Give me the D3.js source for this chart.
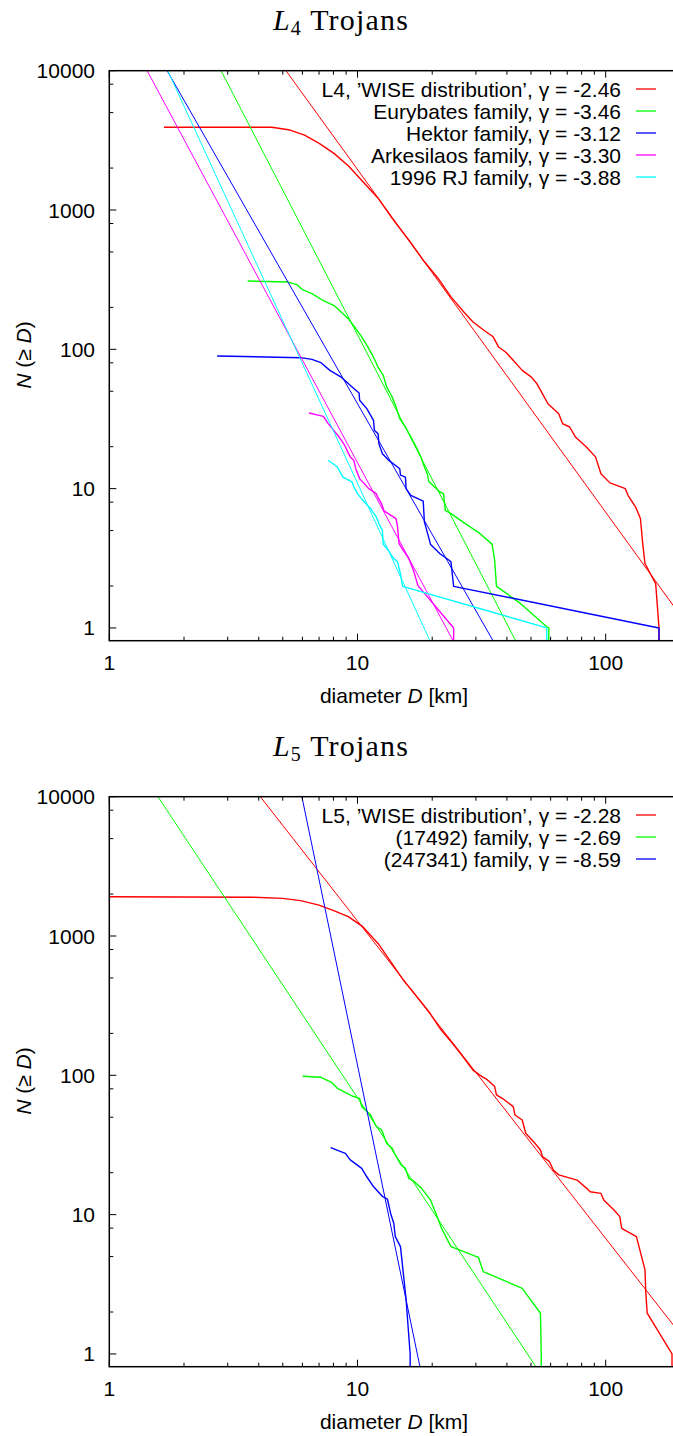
<!DOCTYPE html>
<html><head><meta charset="utf-8">
<script src="https://cdn.jsdelivr.net/npm/d3@7"></script>
<style>body{margin:0;background:#fff}svg{display:block}</style>
</head><body>
<svg id="c" width="673" height="1436"></svg>
<script>
// ---------- data (D in km, N(>=D)) ----------
const xTickValues = [1, 10, 100];
const xTickLabels = ["1", "10", "100"];
const yTickValues = [1, 10, 100, 1000, 10000];
const yTickLabels = ["1", "10", "100", "1000", "10000"];
const xMinorTicks = [2,3,4,5,6,7,8,9,20,30,40,50,60,70,80,90];
const yMinorTicks = [2,5,8,20,50,80,200,500,800,2000,5000,8000];

// L4 panel
const l4Wise = [[1.66,3930],[4.52,3930],[5.35,3750],[6.12,3450],[7.01,3010],[8.04,2550],[9.20,2070],[10.5,1603],[12.1,1216],[13.8,871],[16.4,582],[18.4,436],[21.1,324],[23.8,238],[27.2,180],[29.2,157],[32.3,137],[35.2,123],[37.0,104],[39.5,95.7],[42.4,83.4],[46.1,70.6],[50.2,63.2],[52.8,56.8],[55.6,48.1],[58.5,40.7],[61.5,37.5],[64.7,34.5],[67.0,29.3],[71.6,27.7],[75.5,23.5],[83.6,19.9],[91.0,16.9],[95.7,12.8],[104,11.0],[120,10],[123,8.95],[132,7.38],[138,6.10],[141,4.03],[144,2.90],[159,2.08],[164,1],[164,0.5]];
const l4Eurybates = [[3.61,309],[5.25,304],[5.71,291],[6.01,268],[6.55,251],[7.24,225],[8.02,207],[8.59,185],[9.18,166],[9.84,141],[10.4,123],[10.9,107],[11.5,90.6],[12.1,74.6],[12.7,65.0],[13.1,53.7],[13.8,45.5],[14.3,38.5],[14.8,31.8],[15.6,27.7],[16.4,23.5],[17.5,18.8],[18.0,16.9],[18.4,15.1],[19.1,12.8],[19.4,11.2],[21.5,9.46],[22.2,9.20],[22.6,6.98],[23.8,6.62],[27.2,5.61],[31.2,4.75],[34.9,3.98],[35.7,3.06],[36.3,1.99],[38.3,1.86],[45.3,1.50],[57.9,1.02],[59.0,1],[59.0,0.5]];
const l4Hektor = [[2.72,89.5],[5.90,87.1],[6.55,84.7],[7.13,80.2],[7.74,70.6],[8.59,63.2],[9.51,53.7],[10.15,48.6],[10.2,43.1],[10.9,37.5],[11.6,30.9],[11.7,26.2],[12.1,24.8],[12.2,21.0],[12.6,17.8],[13.3,16.1],[14.8,13.9],[14.9,12.5],[15.6,12.1],[15.7,10],[16.4,8.95],[18.4,8.15],[18.6,5.77],[19.7,3.98],[21.5,3.41],[23.4,3.06],[23.8,2.98],[24.4,1.99],[164,1],[164,0.5]];
const l4Arkesilaos = [[6.38,34.9],[7.00,33.6],[7.29,33.0],[7.62,29.3],[8.02,26.2],[8.43,23.5],[8.87,20.5],[9.35,16.9],[9.66,16.0],[9.84,13.9],[10.2,11.8],[11.1,10],[11.9,9.20],[12.1,8.61],[12.5,7.80],[12.8,6.92],[13.3,6.62],[14.3,6.10],[14.5,5.31],[14.7,4.03],[15.3,3.61],[16.1,3.15],[16.9,2.52],[17.5,2.02],[24.4,1],[24.4,0.5]];
const l4RJ1996 = [[7.62,16.0],[8.30,14.3],[8.73,12.1],[9.51,11.2],[9.66,10.3],[10.0,9.20],[10.5,8.24],[11.3,7.18],[11.9,6.27],[12.2,5.61],[12.6,5.02],[12.7,3.98],[13.3,3.61],[14.0,3.15],[14.5,2.98],[14.9,2.45],[15.2,1.99],[57.9,1],[57.9,0.5]];
// power-law fits: two end points each
const l4WiseFit = [[5.15,10000],[200,1.23]];
const l4EurybatesFit = [[2.82,10000],[43.4,0.807]];
const l4HektorFit = [[1.71,10000],[35.2,0.807]];
const l4ArkesilaosFit = [[1.42,10000],[24.3,0.807]];
const l4RJ1996Fit = [[1.72,10000],[19.6,0.807]];
const l4Labels = ["L4, \u2019WISE distribution\u2019, \u03b3 = -2.46", "Eurybates family, \u03b3 = -3.46", "Hektor family, \u03b3 = -3.12", "Arkesilaos family, \u03b3 = -3.30", "1996 RJ family, \u03b3 = -3.88"];

// L5 panel
const l5Wise = [[0.9,1914],[1.0,1914],[3.80,1897],[4.99,1862],[5.90,1795],[7.00,1667],[8.02,1521],[9.18,1377],[10.5,1167],[12.1,885],[13.8,630],[15.3,483],[16.9,388],[19.4,286],[21.5,217],[23.8,175],[26.3,140],[29.2,109],[31.2,100],[33.4,92.7],[35.7,83.0],[36.3,72.3],[38.3,68.4],[42.4,59.6],[43.1,51.9],[46.1,47.8],[47.6,38.4],[51.9,32.5],[54.6,29.1],[55.6,26.1],[59.4,24.0],[61.5,20.9],[64.7,19.3],[76.7,17.7],[83.6,15.5],[86.5,14.6],[95.7,14.2],[98.4,12.7],[108,10.8],[114,9.68],[116,7.98],[133,6.95],[144,4.01],[145,2.80],[147,1.96],[185,1],[185,0.5]];
const l5Fam17492 = [[6.01,98.4],[7.13,96.8],[7.89,88.5],[8.30,80.7],[9.51,71.1],[10.2,68.4],[10.4,59.6],[11.3,51.9],[11.9,42.9],[12.5,40.6],[13.1,32.5],[13.8,29.9],[14.2,26.8],[15.0,22.7],[15.6,21.5],[16.1,18.2],[16.9,17.3],[18.1,15.5],[19.7,12.7],[20.7,10.2],[21.8,7.98],[23.8,5.89],[30.7,4.94],[32.1,3.90],[46.1,2.96],[54.6,1.96],[55.0,1],[55.0,0.5]];
const l5Fam247341 = [[7.80,30.3],[8.93,27.5],[9.35,24.7],[10.4,21.5],[10.9,18.7],[11.6,15.9],[12.6,13.5],[13.2,12.9],[13.6,10.2],[14.0,8.67],[14.2,6.95],[14.9,5.89],[15.3,3.79],[15.7,2.44],[16.3,1],[16.3,0.5]];
const l5WiseFit = [[4.06,10000],[200,1.39]];
const l5Fam17492Fit = [[1.57,10000],[52.8,0.79]];
const l5Fam247341Fit = [[5.97,10000],[17.9,0.79]];
const l5Labels = ["L5, \u2019WISE distribution\u2019, \u03b3 = -2.28", "(17492) family, \u03b3 = -2.69", "(247341) family, \u03b3 = -8.59"];

const colors = ["#ff0000", "#00ff00", "#0000ff", "#ff00ff", "#00ffff"];

// ---------- drawing ----------
const svg = d3.select("#c");
const SANS = "'Liberation Sans', Arial, Helvetica, sans-serif";
const SERIF = "'Liberation Serif', 'DejaVu Serif', serif";
const FS = 21;

function drawPanel(idx, oy, sub, curves, fits, labels) {
  const g = svg.append("g").attr("transform", `translate(0,${oy})`);
  const x = d3.scaleLog().domain([1, 200]).range([109.3, 680.4]);
  const y = d3.scaleLog().domain([0.81, 10000]).range([640.7, 70.7]);
  const [x0, x1] = x.range(), [y1, y0] = y.range();
  const cid = "clip" + idx;
  g.append("clipPath").attr("id", cid).append("rect")
    .attr("x", x0).attr("y", y0).attr("width", x1 - x0).attr("height", y1 - y0);

  const line = d3.line().x(d => x(d[0])).y(d => y(d[1]));
  const plot = g.append("g").attr("clip-path", `url(#${cid})`);
  curves.forEach((c, i) => {
    plot.append("path").attr("d", line(fits[i])).attr("fill", "none")
      .attr("stroke", colors[i]).attr("stroke-width", 1);
    plot.append("path").attr("d", line(c)).attr("fill", "none")
      .attr("stroke", colors[i]).attr("stroke-width", 1.4).attr("stroke-linejoin", "round");
  });

  // ticks (inward, mirrored)
  const tk = g.append("g").attr("stroke", "#000").attr("stroke-width", 1);
  xTickValues.forEach(v => {
    tk.append("line").attr("x1", x(v)).attr("x2", x(v)).attr("y1", y1).attr("y2", y1 - 7);
    tk.append("line").attr("x1", x(v)).attr("x2", x(v)).attr("y1", y0).attr("y2", y0 + 7);
  });
  xMinorTicks.forEach(v => {
    tk.append("line").attr("x1", x(v)).attr("x2", x(v)).attr("y1", y1).attr("y2", y1 - 4);
    tk.append("line").attr("x1", x(v)).attr("x2", x(v)).attr("y1", y0).attr("y2", y0 + 4);
  });
  yTickValues.forEach(v => {
    tk.append("line").attr("x1", x0).attr("x2", x0 + 7).attr("y1", y(v)).attr("y2", y(v));
    tk.append("line").attr("x1", x1).attr("x2", x1 - 7).attr("y1", y(v)).attr("y2", y(v));
  });
  yMinorTicks.forEach(v => {
    tk.append("line").attr("x1", x0).attr("x2", x0 + 4).attr("y1", y(v)).attr("y2", y(v));
    tk.append("line").attr("x1", x1).attr("x2", x1 - 4).attr("y1", y(v)).attr("y2", y(v));
  });
  g.append("rect").attr("x", x0).attr("y", y0).attr("width", x1 - x0).attr("height", y1 - y0)
    .attr("fill", "none").attr("stroke", "#000").attr("stroke-width", 1.5);

  // tick labels
  xTickValues.forEach((v, i) => {
    g.append("text").attr("x", x(v)).attr("y", 670).attr("text-anchor", "middle")
      .attr("font-family", SANS).attr("font-size", FS).text(xTickLabels[i]);
  });
  yTickValues.forEach((v, i) => {
    g.append("text").attr("x", 95).attr("y", y(v) + 7.5).attr("text-anchor", "end")
      .attr("font-family", SANS).attr("font-size", FS).text(yTickLabels[i]);
  });

  // axis labels
  const xl = g.append("text").attr("x", 394).attr("y", 703).attr("text-anchor", "middle")
    .attr("font-family", SANS).attr("font-size", FS);
  xl.append("tspan").text("diameter ");
  xl.append("tspan").attr("font-style", "italic").text("D");
  xl.append("tspan").text(" [km]");
  const yl = g.append("text").attr("transform", "translate(31,355) rotate(-90)")
    .attr("text-anchor", "middle").attr("font-family", SANS).attr("font-size", FS);
  yl.append("tspan").attr("font-style", "italic").text("N");
  yl.append("tspan").text(" (\u2265 ");
  yl.append("tspan").attr("font-style", "italic").text("D");
  yl.append("tspan").text(")");

  // title
  const t = g.append("text").attr("x", 341).attr("y", 30).attr("text-anchor", "middle")
    .attr("font-family", SERIF).attr("font-size", 30).attr("letter-spacing", 1.2);
  t.append("tspan").attr("font-style", "italic").text("L");
  t.append("tspan").attr("font-size", 20).attr("dy", 5).text(sub);
  t.append("tspan").attr("dy", -5).text(" Trojans");

  // legend
  labels.forEach((s, i) => {
    const ly = 89 + i * 22;
    g.append("text").attr("x", 621).attr("y", ly + 7.5).attr("text-anchor", "end")
      .attr("font-family", SANS).attr("font-size", FS).text(s);
    g.append("line").attr("x1", 636).attr("x2", 656).attr("y1", ly).attr("y2", ly)
      .attr("stroke", colors[i]).attr("stroke-width", 1.3);
  });
}

drawPanel(0, 0, "4", [l4Wise, l4Eurybates, l4Hektor, l4Arkesilaos, l4RJ1996],
  [l4WiseFit, l4EurybatesFit, l4HektorFit, l4ArkesilaosFit, l4RJ1996Fit], l4Labels);
drawPanel(1, 726, "5", [l5Wise, l5Fam17492, l5Fam247341],
  [l5WiseFit, l5Fam17492Fit, l5Fam247341Fit], l5Labels);
</script>
</body></html>
